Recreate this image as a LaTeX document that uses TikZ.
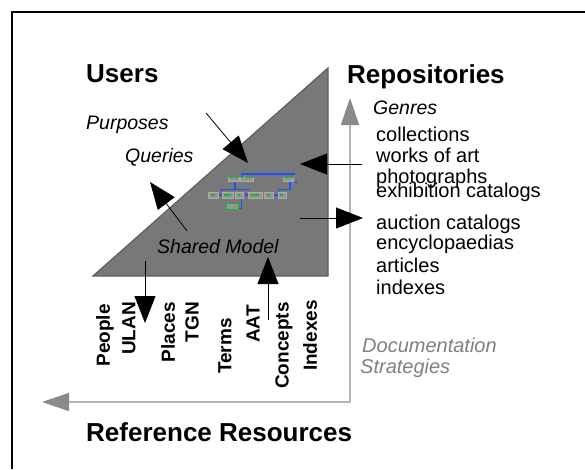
\documentclass[tikz,border=0pt]{standalone}
\usepackage{fontspec}
\setmainfont{Liberation Sans}
\usetikzlibrary{arrows.meta}
\definecolor{trifill}{RGB}{120,120,120}
\definecolor{triedge}{RGB}{95,95,95}
\definecolor{axisline}{RGB}{180,180,180}
\definecolor{axishead}{RGB}{138,138,138}
\definecolor{docgray}{RGB}{128,128,128}
\definecolor{mblue}{RGB}{30,80,255}
\definecolor{mgreen}{RGB}{20,190,20}
\definecolor{mbox}{RGB}{150,150,150}
\begin{document}
\begin{tikzpicture}[x=1pt,y=-1pt,
  title/.style={font=\fontsize{26}{30}\selectfont\bfseries, anchor=base west, inner sep=0pt},
  itl/.style={font=\fontsize{19.5}{22}\selectfont\itshape, anchor=base west, inner sep=0pt},
  genre/.style={font=\fontsize{20}{22}\selectfont, anchor=base west, inner sep=0pt},
  doc/.style={font=\fontsize{20}{22}\selectfont\itshape, text=docgray, anchor=base west, inner sep=0pt},
  rot/.style={font=\fontsize{19}{22}\selectfont\bfseries, rotate=90, anchor=east, inner sep=0pt},
  blk/.style={-{Triangle[length=27pt,width=21pt]}, line width=0.8pt},
  axis/.style={{Triangle[length=27pt,width=18pt,color=axishead]}-{Triangle[length=27pt,width=18pt,color=axishead]}, draw=axisline, line width=1.6pt},
  bl/.style={draw=mblue, line width=1.4pt},
  mb/.style={fill=mbox, draw=mbox!80!white, line width=0.3pt},
  gd/.style={draw=mgreen, line width=1.2pt}]
\useasboundingbox (0,0) rectangle (585,469);
\fill[white] (0,0) rectangle (585,469);
% frame
\draw[line width=2pt] (12,469) -- (12,12) -- (585,12);
% triangle
\draw[fill=trifill, draw=triedge, line width=1.2pt, line join=miter] (93,276) -- (328,68) -- (328,276) -- cycle;
% axes
\coordinate (yend) at (350,98);
\coordinate (corner) at (350,402);
\coordinate (xend) at (42,402);
\draw[axis] (xend) -- (corner) -- (yend);
% titles
\node[title] (users) at (86,82) {Users};
\node[title] (repo) at (347,83) {Repositories};
\node[title] (refres) at (86,441) {Reference Resources};
% italic labels
\node[itl] (purp) at (86,129.5) {Purposes};
\node[itl] (quer) at (125,162) {Queries};
\node[itl] (shared) at (157,253) {Shared Model};
\node[itl] (genres) at (373,114) {Genres};
% genre list
\node[genre] (g1) at (376,141) {collections};
\node[genre] (g2) at (376,162.5) {works of art};
\node[genre] (g3) at (376,183) {photographs};
\node[genre] (g4) at (376,197.5) {exhibition catalogs};
\node[genre] (g5) at (376,229) {auction catalogs};
\node[genre] (g6) at (376,249.5) {encyclopaedias};
\node[genre] (g7) at (376,272.5) {articles};
\node[genre] (g8) at (376,294) {indexes};
% documentation strategies
\node[doc] (doc1) at (362,352) {Documentation};
\node[doc] (doc2) at (360,373) {Strategies};
% rotated reference resources
\node[rot] (r1) at (105,304) {People};
\node[rot] (r2) at (129,302) {ULAN};
\node[rot] (r3) at (168,302) {Places};
\node[rot] (r4) at (192,302) {TGN};
\node[rot] (r5) at (225,318) {Terms};
\node[rot] (r6) at (253,305) {AAT};
\node[rot] (r7) at (284,302) {Concepts};
\node[rot] (r8) at (310,300) {Indexes};
% black arrows
\coordinate (a1s) at (206,113); \coordinate (a1e) at (248,163);
\coordinate (a2s) at (187,231); \coordinate (a2e) at (150,182);
\coordinate (a3s) at (362,164); \coordinate (a3e) at (300,164);
\coordinate (a4s) at (300,218); \coordinate (a4e) at (363,218);
\coordinate (a5s) at (145,261); \coordinate (a5e) at (145,323);
\coordinate (a6s) at (268,320); \coordinate (a6e) at (268,257);
\draw[blk] (a1s) -- (a1e);
\draw[blk] (a2s) -- (a2e);
\draw[blk] (a3s) -- (a3e);
\draw[blk] (a4s) -- (a4e);
\draw[blk] (a5s) -- (a5e);
\draw[blk] (a6s) -- (a6e);
% small model schematic
\draw[bl] (241.7,180.7) -- (241.7,174) -- (295,174);
\draw[bl] (290,180.7) -- (290,189.3) -- (278.3,189.3) -- (278.3,192);
\draw[bl] (296,181) -- (296,183);
\draw[bl] (221.7,192) -- (221.7,189.3) -- (250,189.3);
\draw[bl] (235,180.7) -- (235,189.3);
\draw[bl] (241.7,198.3) -- (241.7,208.3) -- (239,208.3);
\draw[bl] (218.3,195) -- (221.7,195);
\draw[bl] (245,195) -- (249.3,195);
\draw[bl] (272.7,195) -- (278.3,195);
% row 1 boxes
\fill[mb] (227.7,177.5) rectangle (239.3,181);
\fill[mb] (240,177.5) rectangle (253.3,181);
\fill[mb] (283.3,177.5) rectangle (293.3,181);
\draw[gd] (228.5,177.8) -- (238.5,177.8);
\draw[gd] (241,177.8) -- (243,177.8);
\draw[gd] (245,177.8) -- (252.5,177.8);
\draw[gd] (284,177.8) -- (292.5,177.8);
% row 2 boxes
\fill[mb] (208,191.7) rectangle (218.3,198.3);
\fill[mb] (221.7,191.7) rectangle (233.3,198.3);
\fill[mb] (235,191.7) rectangle (243.3,198.3);
\fill[mb] (248.3,191.7) rectangle (261.7,198.3);
\fill[mb] (264,191.7) rectangle (272.7,198.3);
\fill[mb] (277.7,191.7) rectangle (286,198.3);
\draw[gd] (210.5,195) -- (215,195);
\draw[gd] (224,195) -- (231,195);
\draw[gd] (237.5,195) -- (240,195);
\draw[gd] (251,195) -- (259,195);
\draw[gd] (267,195) -- (269.5,195);
\draw[gd] (280,195) -- (283,195);
% row 3 box
\filldraw[fill=mbox, draw=mgreen, line width=0.6pt] (226.7,203.5) rectangle (238.3,209.3);
\end{tikzpicture}
\end{document}
